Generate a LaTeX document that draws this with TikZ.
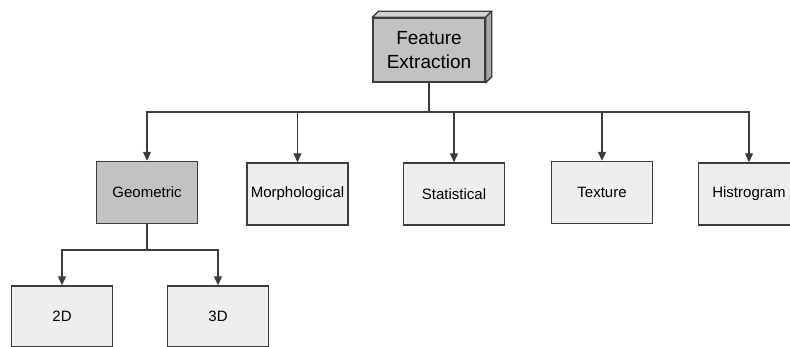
\documentclass[tikz,border=0pt]{standalone}
\usepackage{fontspec}
\setmainfont{Liberation Sans}
\usetikzlibrary{arrows.meta}
\definecolor{boxline}{HTML}{3C3C3C}
\definecolor{lightfill}{HTML}{EEEEEE}
\definecolor{darkfill}{HTML}{C2C2C2}
\definecolor{topface}{HTML}{D2D2D2}
\definecolor{sideface}{HTML}{A8A8A8}
\begin{document}
\begin{tikzpicture}[x=1pt,y=-1pt,
  catbox/.style={draw=boxline, line width=1.4pt, fill=lightfill, inner sep=0pt,
    minimum width=101pt, minimum height=62pt, font=\fontsize{15}{18}\selectfont},
  keybox/.style={catbox, fill=darkfill},
  link/.style={draw=boxline, line width=1.2pt},
  arr/.style={link, -{Triangle[length=9pt,width=8pt]}}]
\useasboundingbox (0,0) rectangle (790,347);

% root: a raised block
\node[keybox, minimum width=112pt, minimum height=64pt, align=center,
      font=\fontsize{19}{24}\selectfont] (fe) at (429,50) {Feature\\Extraction};
\filldraw[fill=topface, draw=boxline, line width=1.4pt, line join=round]
  (fe.north west) -- ++(6,-6) -- ([shift={(6,-6)}]fe.north east) -- (fe.north east) -- cycle;
\filldraw[fill=sideface, draw=boxline, line width=1.4pt, line join=round]
  (fe.north east) -- ++(6,-6) -- ([shift={(6,-6)}]fe.south east) -- (fe.south east) -- cycle;

% first level
\node[keybox] (geo) at (147,192.5) {Geometric};
\node[catbox] (mor) at (297.5,194) {Morphological};
\node[catbox] (sta) at (454,194) {Statistical};
\node[catbox] (tex) at (602,192.5) {Texture};
\node[catbox] (his) at (749,194) {Histrogram};

% second level
\node[catbox, minimum height=61pt] (d2) at (62,316.5) {2D};
\node[catbox, minimum height=61pt] (d3) at (218,316.5) {3D};

% connectors from the root
\coordinate (bus) at (fe.south |- 0,112);
\draw[link] (fe.south) -- (bus);
\draw[arr] (bus) -| (geo.north);
\draw[arr] (bus) -| (mor.north);
\draw[arr] (bus) -| (sta.north);
\draw[arr] (bus) -| (tex.north);
\draw[arr] (bus) -| (his.north);

% connectors from Geometric
\coordinate (gbus) at (geo.south |- 0,250);
\draw[link] (geo.south) -- (gbus);
\draw[arr] (gbus) -| (d2.north);
\draw[arr] (gbus) -| (d3.north);
\end{tikzpicture}
\end{document}
